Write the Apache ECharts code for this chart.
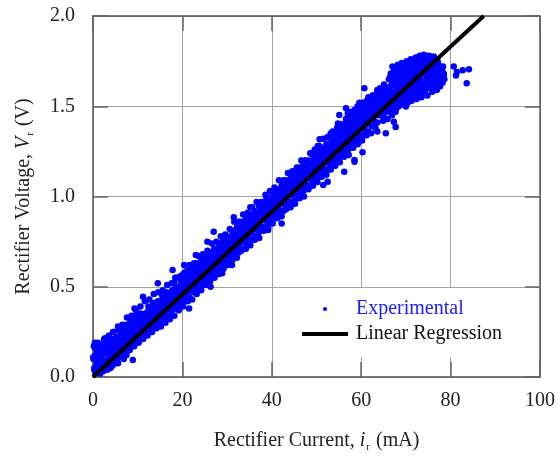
<!DOCTYPE html>
<html>
<head>
<meta charset="utf-8">
<script src="https://cdn.jsdelivr.net/npm/echarts@6/dist/echarts.min.js"></script>
<style>
  html, body { margin: 0; padding: 0; background: #fff; }
  #chart { width: 558px; height: 461px; }
</style>
</head>
<body>
<div id="chart"></div>
<script>
// axis ticks
const currentTicks = [0, 20, 40, 60, 80, 100]
const voltageTicks = [0, 0.5, 1.0, 1.5, 2.0]

const pointsLow = [
  [0.2,0.17],[0.5,0.12],[0.8,0.08],[0.3,0.05],[0.6,0.02],[0.9,0.14],[0.1,0.10],[0.4,0.19],
  [1.2,0.16],[1.5,0.11],[1.8,0.07],[1.3,0.04],[1.7,0.13],[1.1,0.19],[1.6,0.02],
  [2.1,0.18],[2.4,0.13],[2.8,0.09],[2.3,0.06],[2.6,0.15],[2.9,0.04],[2.5,0.21],[2.7,0.214],
  [3.2,0.19],[3.5,0.14],[3.8,0.10],[3.1,0.07],[3.6,0.16],[3.9,0.05],
  [4.1,0.21],[4.4,0.16],[4.7,0.12],[4.3,0.09],[4.9,0.14],[4.6,0.07],[4.5,0.19],
  [5.2,0.22],[5.5,0.17],[5.8,0.13],[5.3,0.10],[5.6,0.076],[5.9,0.20],[5.1,0.15],
  [6.2,0.24],[6.5,0.19],[6.8,0.15],[6.3,0.12],[6.7,0.21],[6.9,0.10],[6.4,0.17],
  [7.1,0.26],[7.4,0.21],[7.7,0.17],[7.3,0.14],[7.5,0.122],[7.9,0.23],[7.6,0.19],
  [8.2,0.28],[8.5,0.23],[8.8,0.19],[8.3,0.16],[8.6,0.25],[8.9,0.094],[8.4,0.21],
  [9.1,0.30],[9.3,0.38],[9.5,0.25],[9.8,0.21],[9.2,0.18],[9.6,0.27],[9.9,0.23],
  [10.2,0.32],[10.5,0.27],[10.8,0.23],[10.3,0.20],[10.6,0.29],[10.9,0.25],[10.4,0.35],
  [11.2,0.445],[11.1,0.34],[11.4,0.29],[11.7,0.25],[11.3,0.22],[11.6,0.31],[11.9,0.27],
  [12.2,0.36],[12.5,0.31],[12.8,0.27],[12.3,0.24],[12.6,0.33],[12.9,0.29],[12.4,0.39],
  [13.1,0.38],[13.4,0.33],[13.7,0.29],[13.3,0.26],[13.6,0.35],[13.9,0.31],[13.5,0.41],
  [14.5,0.519],[14.2,0.40],[14.5,0.35],[14.8,0.31],[14.3,0.28],[14.6,0.37],[14.9,0.33],
  [15.1,0.42],[15.4,0.37],[15.7,0.33],[15.3,0.30],[15.6,0.39],[15.9,0.35],[15.5,0.45],
  [16.2,0.44],[16.5,0.39],[16.8,0.35],[16.3,0.32],[16.6,0.41],[16.9,0.37],[16.4,0.47],
  [17.8,0.593],[17.1,0.46],[17.4,0.41],[17.7,0.37],[17.3,0.34],[17.6,0.43],[17.9,0.39]
]

const pointsMid = [
  [18.2,0.52],[18.5,0.47],[18.8,0.44],[18.3,0.42],[18.6,0.38],[18.9,0.49],[18.4,0.55],
  [19.1,0.55],[19.4,0.50],[19.7,0.46],[19.3,0.43],[19.6,0.40],[19.9,0.52],[19.5,0.48],
  [20.4,0.62],[20.2,0.57],[20.5,0.52],[20.8,0.48],[20.3,0.45],[20.6,0.42],[20.9,0.50],[20.1,0.54],
  [21.5,0.38],[21.1,0.59],[21.4,0.54],[21.7,0.50],[21.3,0.47],[21.6,0.44],[21.9,0.52],[21.2,0.56],
  [22.2,0.61],[22.5,0.56],[22.8,0.53],[22.3,0.50],[22.6,0.47],[22.9,0.55],[22.4,0.58],
  [23.0,0.676],[23.1,0.63],[23.4,0.58],[23.7,0.55],[23.3,0.52],[23.6,0.49],[23.9,0.57],[23.5,0.61],
  [24.2,0.65],[24.5,0.60],[24.8,0.57],[24.3,0.54],[24.6,0.51],[24.9,0.58],[24.4,0.63],
  [25.6,0.75],[25.1,0.67],[25.4,0.62],[25.7,0.59],[25.3,0.56],[25.6,0.53],[25.9,0.60],[25.5,0.65],
  [26.3,0.50],[26.2,0.69],[26.5,0.64],[26.8,0.61],[26.3,0.58],[26.6,0.55],[26.9,0.63],[26.4,0.67],
  [27.0,0.805],[27.1,0.71],[27.4,0.67],[27.7,0.63],[27.3,0.60],[27.6,0.57],[27.9,0.65],[27.5,0.69],
  [28.2,0.74],[28.5,0.69],[28.8,0.66],[28.3,0.63],[28.6,0.59],[28.9,0.67],[28.4,0.71],
  [28.9,0.575],[29.1,0.76],[29.4,0.72],[29.7,0.68],[29.3,0.65],[29.6,0.62],[29.9,0.70],[29.5,0.74],
  [30.2,0.78],[30.5,0.74],[30.8,0.71],[30.3,0.68],[30.6,0.64],[30.9,0.72],[30.4,0.76],
  [31.5,0.885],[31.1,0.62],[31.1,0.81],[31.4,0.77],[31.7,0.73],[31.3,0.70],[31.6,0.67],[31.9,0.75],[31.5,0.79],
  [32.2,0.83],[32.5,0.79],[32.8,0.76],[32.3,0.72],[32.6,0.69],[32.9,0.77],[32.4,0.81],
  [33.1,0.86],[33.4,0.81],[33.7,0.78],[33.3,0.75],[33.6,0.71],[33.9,0.79],[33.5,0.84],
  [34.2,0.88],[34.5,0.84],[34.8,0.80],[34.3,0.77],[34.6,0.74],[34.9,0.82],[34.4,0.86],
  [35.1,0.90],[35.4,0.86],[35.7,0.83],[35.3,0.80],[35.6,0.76],[35.9,0.84],[35.5,0.88],[35.2,0.94],
  [36.2,0.92],[36.5,0.88],[36.8,0.85],[36.3,0.82],[36.6,0.78],[36.9,0.87],[36.4,0.90],
  [37.1,0.95],[37.4,0.91],[37.7,0.87],[37.3,0.84],[37.6,0.81],[37.9,0.89],[37.5,0.93],
  [38.2,0.97],[38.5,0.93],[38.8,0.90],[38.3,0.87],[38.6,0.83],[38.9,0.91],[38.4,0.95],[38.7,1.00],
  [39.2,0.814],[39.1,0.99],[39.4,0.95],[39.7,0.92],[39.3,0.89],[39.6,0.86],[39.9,0.94],[39.5,0.97],
  [40.2,1.02],[40.5,0.97],[40.8,0.94],[40.3,0.91],[40.6,0.88],[40.9,0.96],[40.4,1.00],
  [41.1,1.04],[41.4,1.00],[41.7,0.96],[41.3,0.93],[41.6,0.90],[41.9,0.98],[41.5,1.02],
  [42.2,0.851],[42.2,1.06],[42.5,1.02],[42.8,0.99],[42.3,0.96],[42.6,0.92],[42.9,1.00],[42.4,1.04],
  [43.1,1.09],[43.4,1.05],[43.7,1.01],[43.3,0.98],[43.6,0.95],[43.9,1.03],[43.5,1.07],
  [44.4,1.13],[44.2,1.10],[44.5,1.07],[44.8,1.04],[44.3,1.01],[44.6,0.97],[44.9,1.05],[44.1,1.08],
  [45.1,1.13],[45.4,1.09],[45.7,1.06],[45.3,1.03],[45.6,0.99],[45.9,1.07],[45.5,1.11],
  [46.2,1.16],[46.5,1.11],[46.8,1.08],[46.3,1.05],[46.6,1.02],[46.9,1.10],[46.4,1.14],
  [47.4,1.20],[47.1,1.18],[47.4,1.14],[47.7,1.10],[47.3,1.07],[47.6,1.04],[47.9,1.12],[47.5,1.16],
  [48.2,1.20],[48.5,1.16],[48.8,1.13],[48.3,1.10],[48.6,1.06],[48.9,1.14],[48.4,1.18],
  [49.1,1.23],[49.4,1.18],[49.7,1.15],[49.3,1.12],[49.6,1.08],[49.9,1.17],[49.5,1.21],
  [50.3,1.28],[50.2,1.25],[50.5,1.21],[50.8,1.17],[50.3,1.14],[50.6,1.11],[50.9,1.19],[50.4,1.23],
  [50.7,1.317],[51.5,1.064],[51.1,1.27],[51.4,1.23],[51.7,1.20],[51.3,1.16],[51.6,1.13],[51.9,1.21],[51.5,1.25],
  [52.5,1.33],[52.5,1.082],[51.8,1.128],[52.2,1.29],[52.5,1.25],[52.8,1.22],[52.3,1.19],[52.6,1.15],[52.9,1.24],[52.4,1.27],
  [53.1,1.32],[53.4,1.28],[53.7,1.24],[53.3,1.21],[53.6,1.18],[53.9,1.26],[53.5,1.30],[53.2,1.35],
  [54.2,1.34],[54.5,1.30],[54.8,1.27],[54.3,1.23],[54.6,1.20],[54.9,1.28],[54.4,1.32],[54.7,1.37],
  [55.1,1.452],[54.8,1.405],[55.1,1.36],[55.4,1.32],[55.7,1.29],[55.3,1.26],[55.6,1.23],[55.9,1.31],[55.5,1.34],[55.2,1.39],
  [56.6,1.489],[56.2,1.137],[56.2,1.39],[56.5,1.35],[56.8,1.31],[56.3,1.28],[56.6,1.25],[56.9,1.33],[56.4,1.37],[56.7,1.42],
  [57.7,1.47],[57.0,1.46],[57.1,1.41],[57.4,1.37],[57.7,1.34],[57.3,1.30],[57.6,1.27],[57.9,1.36],[57.5,1.39],[57.2,1.44],
  [58.5,1.202],[58.5,1.193],[58.2,1.44],[58.5,1.40],[58.8,1.36],[58.3,1.33],[58.6,1.29],[58.9,1.38],[58.4,1.42],[58.7,1.47],
  [59.6,1.52],[59.2,1.50],[59.1,1.46],[59.4,1.42],[59.7,1.39],[59.3,1.35],[59.6,1.32],[59.9,1.41],[59.5,1.44],
  [60.7,1.60],[60.3,1.245],[60.2,1.49],[60.5,1.45],[60.8,1.41],[60.3,1.38],[60.6,1.34],[60.9,1.43],[60.4,1.52],
  [61.4,1.535],[61.1,1.51],[61.4,1.47],[61.7,1.44],[61.3,1.40],[61.6,1.36],[61.9,1.45],[61.5,1.49],
  [62.2,1.54],[62.5,1.50],[62.8,1.46],[62.3,1.43],[62.6,1.39],[62.9,1.48],[62.4,1.52],[62.7,1.56],
  [63.6,1.58],[63.6,1.36],[63.1,1.56],[63.4,1.52],[63.7,1.49],[63.3,1.45],[63.6,1.41],[63.9,1.50],[63.5,1.54]
]

const pointsHigh = [
  [64.2,1.60],[64.5,1.56],[64.8,1.52],[64.3,1.49],[64.6,1.46],[64.9,1.42],[64.4,1.54],[64.7,1.58],[64.1,1.50],
  [65.1,1.62],[65.4,1.58],[65.7,1.54],[65.3,1.51],[65.6,1.47],[65.9,1.43],[65.5,1.35],[65.2,1.56],[65.8,1.60],[65.5,1.49],
  [66.6,1.68],[66.2,1.65],[66.5,1.61],[66.8,1.57],[66.3,1.53],[66.6,1.49],[66.9,1.45],[66.4,1.59],[66.7,1.55],[66.1,1.51],
  [67.0,1.72],[67.3,1.414],[67.7,1.385],[67.2,1.69],[67.5,1.65],[67.8,1.61],[67.3,1.57],[67.6,1.53],[67.9,1.49],[67.4,1.63],[67.7,1.47],[67.1,1.55],
  [68.2,1.73],[68.5,1.70],[68.8,1.66],[68.3,1.62],[68.6,1.58],[68.9,1.54],[68.4,1.50],[68.7,1.64],[68.1,1.68],[68.5,1.60],
  [69.1,1.74],[69.4,1.71],[69.7,1.67],[69.3,1.63],[69.6,1.59],[69.9,1.55],[69.5,1.51],[69.2,1.65],[69.8,1.69],[69.4,1.57],
  [70.0,1.498],[70.2,1.75],[70.5,1.72],[70.8,1.68],[70.3,1.64],[70.6,1.60],[70.9,1.56],[70.4,1.52],[70.7,1.66],[70.1,1.70],[70.5,1.58],
  [71.1,1.76],[71.4,1.73],[71.7,1.69],[71.3,1.65],[71.6,1.61],[71.9,1.57],[71.3,1.53],[71.2,1.67],[71.8,1.71],[71.5,1.59],
  [72.2,1.77],[72.5,1.74],[72.8,1.70],[72.3,1.66],[72.6,1.62],[72.9,1.58],[72.4,1.54],[72.7,1.68],[72.1,1.72],[72.5,1.60],
  [73.1,1.78],[73.4,1.75],[73.7,1.71],[73.3,1.67],[73.6,1.63],[73.9,1.59],[73.5,1.55],[73.2,1.69],[73.8,1.73],[73.4,1.61],
  [74.0,1.785],[74.3,1.76],[74.6,1.72],[74.9,1.68],[74.2,1.64],[74.5,1.60],[74.8,1.56],[74.4,1.70],[74.7,1.66],[74.1,1.58],
  [75.4,1.608],[75.2,1.78],[75.5,1.74],[75.8,1.70],[75.3,1.66],[75.6,1.62],[75.9,1.58],[75.4,1.72],[75.7,1.68],[75.1,1.64],
  [76.2,1.775],[76.5,1.74],[76.8,1.70],[76.3,1.66],[76.6,1.62],[76.9,1.59],[76.4,1.72],[76.7,1.68],[76.1,1.64],
  [77.1,1.75],[77.4,1.72],[77.7,1.68],[77.3,1.64],[77.6,1.61],[77.9,1.66],[77.5,1.70],
  [78.1,1.70],[78.4,1.664],[78.2,1.63],[78.5,1.68]
]

// denser core of the band
const pointsCore = [
  [0.05,0.11],[0.3,0.04],[0.5,0.16],[0.7,0.10],[0.9,0.06],
  [1.05,0.07],[1.3,0.17],[1.5,0.10],[1.7,0.06],[1.9,0.14],
  [2.05,0.12],[2.3,0.09],[2.5,0.17],[2.7,0.07],[2.9,0.20],
  [3.05,0.15],[3.3,0.22],[3.5,0.11],[3.7,0.18],[3.9,0.09],
  [4.05,0.13],[4.3,0.19],[4.5,0.25],[4.7,0.16],[4.9,0.20],
  [5.05,0.19],[5.3,0.15],[5.5,0.22],[5.7,0.26],[5.9,0.17],
  [6.05,0.18],[6.3,0.25],[6.5,0.16],[6.7,0.28],[6.9,0.22],
  [7.05,0.23],[7.3,0.19],[7.5,0.29],[7.7,0.24],[7.9,0.20],
  [8.05,0.26],[8.3,0.30],[8.5,0.21],[8.7,0.33],[8.9,0.24],
  [9.05,0.27],[9.3,0.24],[9.5,0.34],[9.7,0.29],[9.9,0.31],
  [10.05,0.27],[10.3,0.31],[10.5,0.26],[10.7,0.35],[10.9,0.29],
  [11.05,0.30],[11.3,0.26],[11.5,0.35],[11.7,0.32],[11.9,0.28],
  [12.05,0.33],[12.3,0.29],[12.5,0.37],[12.7,0.31],[12.9,0.35],
  [13.05,0.28],[13.3,0.36],[13.5,0.32],[13.7,0.39],[13.9,0.34],
  [14.05,0.37],[14.3,0.33],[14.5,0.42],[14.7,0.36],[14.9,0.30],
  [15.05,0.34],[15.3,0.40],[15.5,0.37],[15.7,0.44],[15.9,0.38],
  [16.05,0.42],[16.3,0.36],[16.5,0.45],[16.7,0.40],[16.9,0.43],
  [17.05,0.38],[17.3,0.44],[17.5,0.41],[17.7,0.48],[17.9,0.45],
  [18.05,0.46],[18.3,0.40],[18.5,0.50],[18.7,0.43],[18.9,0.46],
  [19.05,0.42],[19.3,0.48],[19.5,0.45],[19.7,0.53],[19.9,0.49],
  [20.05,0.50],[20.3,0.44],[20.5,0.55],[20.7,0.47],[20.9,0.52],
  [21.05,0.46],[21.3,0.53],[21.5,0.50],[21.7,0.58],[21.9,0.55],
  [22.05,0.54],[22.3,0.48],[22.5,0.59],[22.7,0.51],[22.9,0.57],
  [23.05,0.50],[23.3,0.57],[23.5,0.54],[23.7,0.62],[23.9,0.59],
  [24.05,0.59],[24.3,0.52],[24.5,0.63],[24.7,0.56],[24.9,0.61],
  [25.05,0.55],[25.3,0.61],[25.5,0.58],[25.7,0.66],[25.9,0.63],
  [26.05,0.63],[26.3,0.57],[26.5,0.67],[26.7,0.60],[26.9,0.65],
  [27.05,0.59],[27.3,0.66],[27.5,0.63],[27.7,0.71],[27.9,0.68],
  [28.05,0.68],[28.3,0.61],[28.5,0.72],[28.7,0.64],[28.9,0.70],
  [29.05,0.63],[29.3,0.70],[29.5,0.67],[29.7,0.75],[29.9,0.72],
  [30.05,0.72],[30.3,0.65],[30.5,0.76],[30.7,0.69],[30.9,0.74],
  [31.05,0.66],[31.3,0.74],[31.5,0.70],[31.7,0.80],[31.9,0.77],
  [32.05,0.76],[32.3,0.69],[32.5,0.81],[32.7,0.73],[32.9,0.79],
  [33.05,0.71],[33.3,0.79],[33.5,0.75],[33.7,0.85],[33.9,0.82],
  [34.05,0.81],[34.3,0.74],[34.5,0.86],[34.7,0.78],[34.9,0.84],
  [35.05,0.76],[35.3,0.84],[35.5,0.80],[35.7,0.90],[35.9,0.87],
  [36.05,0.85],[36.3,0.78],[36.5,0.90],[36.7,0.82],[36.9,0.88],
  [37.05,0.80],[37.3,0.88],[37.5,0.84],[37.7,0.94],[37.9,0.91],
  [38.05,0.90],[38.3,0.83],[38.5,0.95],[38.7,0.87],[38.9,0.93],
  [39.05,0.85],[39.3,0.93],[39.5,0.89],[39.7,0.99],[39.9,0.96],
  [40.05,0.95],[40.3,0.88],[40.5,1.00],[40.7,0.92],[40.9,0.98],
  [41.05,0.89],[41.3,0.97],[41.5,0.93],[41.7,1.03],[41.9,1.00],
  [42.05,0.99],[42.3,0.92],[42.5,1.04],[42.7,0.96],[42.9,1.02],
  [43.05,0.94],[43.3,1.02],[43.5,0.98],[43.7,1.08],[43.9,1.05],
  [44.05,1.04],[44.3,0.97],[44.5,1.09],[44.7,1.01],[44.9,1.07],
  [45.05,0.98],[45.3,1.06],[45.5,1.02],[45.7,1.12],[45.9,1.09],
  [46.05,1.08],[46.3,1.01],[46.5,1.13],[46.7,1.05],[46.9,1.11],
  [47.05,1.03],[47.3,1.11],[47.5,1.07],[47.7,1.17],[47.9,1.14],
  [48.05,1.13],[48.3,1.06],[48.5,1.18],[48.7,1.10],[48.9,1.16],
  [49.05,1.07],[49.3,1.15],[49.5,1.11],[49.7,1.22],[49.9,1.19],
  [50.05,1.18],[50.3,1.11],[50.5,1.23],[50.7,1.15],[50.9,1.21],
  [51.05,1.12],[51.3,1.20],[51.5,1.16],[51.7,1.27],[51.9,1.24],
  [52.05,1.22],[52.3,1.15],[52.5,1.27],[52.7,1.19],[52.9,1.25],
  [53.05,1.17],[53.3,1.25],[53.5,1.21],[53.7,1.32],[53.9,1.29],
  [54.05,1.27],[54.3,1.20],[54.5,1.32],[54.7,1.24],[54.9,1.30],
  [55.05,1.21],[55.3,1.29],[55.5,1.26],[55.7,1.37],[55.9,1.34],
  [56.05,1.32],[56.3,1.25],[56.5,1.38],[56.7,1.29],[56.9,1.35],
  [57.05,1.26],[57.3,1.35],[57.5,1.31],[57.7,1.42],[57.9,1.39],
  [58.05,1.37],[58.3,1.30],[58.5,1.43],[58.7,1.34],[58.9,1.40],
  [59.05,1.31],[59.3,1.39],[59.5,1.36],[59.7,1.47],[59.9,1.44],
  [60.05,1.41],[60.3,1.34],[60.5,1.48],[60.7,1.38],[60.9,1.45],
  [61.05,1.36],[61.3,1.44],[61.5,1.41],[61.7,1.52],[61.9,1.49],
  [62.05,1.46],[62.3,1.39],[62.5,1.53],[62.7,1.43],[62.9,1.50],
  [63.05,1.41],[63.3,1.49],[63.5,1.46],[63.7,1.57],[63.9,1.54],
  [64.05,1.45],[64.3,1.53],[64.5,1.59],[64.7,1.48],[64.9,1.56],[64.6,1.51],
  [65.05,1.44],[65.3,1.60],[65.5,1.52],[65.7,1.57],[65.9,1.50],[65.2,1.47],
  [66.05,1.58],[66.3,1.47],[66.5,1.66],[66.7,1.52],[66.9,1.63],[66.2,1.55],
  [67.05,1.62],[67.3,1.51],[67.5,1.70],[67.7,1.58],[67.9,1.67],[67.2,1.48],
  [68.05,1.56],[68.3,1.72],[68.5,1.52],[68.7,1.69],[68.9,1.61],[68.2,1.65],
  [69.05,1.61],[69.3,1.53],[69.5,1.73],[69.7,1.63],[69.9,1.71],[69.2,1.57],
  [70.05,1.66],[70.3,1.74],[70.5,1.55],[70.7,1.70],[70.9,1.62],[70.2,1.59],
  [71.05,1.63],[71.3,1.55],[71.5,1.75],[71.7,1.66],[71.9,1.73],[71.2,1.60],
  [72.05,1.68],[72.3,1.76],[72.5,1.57],[72.7,1.72],[72.9,1.64],[72.2,1.62],
  [73.05,1.65],[73.3,1.57],[73.5,1.77],[73.7,1.68],[73.9,1.75],[73.2,1.62],
  [74.05,1.71],[74.3,1.78],[74.5,1.62],[74.7,1.74],[74.9,1.65],[74.2,1.58],
  [75.05,1.67],[75.3,1.60],[75.5,1.77],[75.7,1.65],[75.9,1.73],[75.2,1.70],
  [76.05,1.71],[76.3,1.77],[76.5,1.60],[76.7,1.74],[76.9,1.66],[76.2,1.68],
  [77.05,1.67],[77.3,1.73],[77.5,1.63],[77.7,1.71],[77.9,1.69],
  [78.05,1.66],[78.3,1.72],[78.6,1.65]
]

// fringe of the band, upper and lower sides
const pointsFringe = [
  [2.6,0.20],[2.2,0.03],[3.6,0.23],[3.2,0.04],[4.6,0.25],[4.2,0.06],[5.6,0.28],[5.2,0.09],
  [6.6,0.29],[6.2,0.11],[7.6,0.33],[7.2,0.13],[8.6,0.34],[8.2,0.15],[9.6,0.37],[9.2,0.17],
  [10.6,0.39],[10.2,0.19],[11.6,0.42],[11.2,0.21],[12.6,0.43],[12.2,0.23],[13.6,0.46],[13.2,0.25],
  [14.6,0.47],[14.2,0.27],[15.6,0.48],[15.2,0.28],[16.6,0.51],[16.2,0.30],[17.6,0.52],[17.2,0.32],
  [18.6,0.55],[18.2,0.34],[19.6,0.56],[19.2,0.37],[20.6,0.58],[20.2,0.39],[21.6,0.62],[21.2,0.42],
  [22.6,0.63],[22.2,0.43],[23.6,0.67],[23.2,0.46],[24.6,0.68],[24.2,0.48],[25.6,0.70],[25.2,0.51],
  [26.6,0.74],[26.2,0.53],[27.6,0.75],[27.2,0.55],[28.6,0.78],[28.2,0.57],[29.6,0.79],[29.2,0.60],
  [30.6,0.82],[30.2,0.62],[31.6,0.86],[31.2,0.65],[32.6,0.86],[32.2,0.66],[33.6,0.90],[33.2,0.70],
  [34.6,0.91],[34.2,0.71],[35.6,0.94],[35.2,0.73],[36.6,0.97],[36.2,0.76],[37.6,0.97],[37.2,0.77],
  [38.6,1.01],[38.2,0.81],[39.6,1.03],[39.2,0.83],[40.6,1.05],[40.2,0.85],[41.6,1.09],[41.2,0.88],
  [42.6,1.09],[42.2,0.89],[43.6,1.13],[43.2,0.93],[44.6,1.14],[44.2,0.94],[45.6,1.16],[45.2,0.96],
  [46.6,1.20],[46.2,0.99],[47.6,1.20],[47.2,1.00],[48.6,1.24],[48.2,1.04],[49.6,1.26],[49.2,1.06],
  [50.6,1.28],[50.2,1.08],[51.6,1.32],[51.2,1.11],[52.6,1.33],[52.2,1.12],[53.6,1.36],[53.2,1.15],
  [54.6,1.38],[54.2,1.17],[55.6,1.40],[55.2,1.19],[56.6,1.43],[56.2,1.22],[57.6,1.45],[57.2,1.23],
  [58.6,1.48],[58.2,1.27],[59.6,1.50],[59.2,1.29],[60.6,1.52],[60.2,1.31],[61.6,1.55],[61.2,1.34],
  [62.6,1.56],[62.2,1.35],[63.6,1.59],[63.2,1.38]
]

const pointsOutlier = [
  [80.7,1.72],[81.2,1.67],[81.4,1.69],[82.7,1.70],[83.6,1.627],[84.1,1.705]
]

// fitted line end points
const regressionLine = [[0, 0], [87.4, 2.0]]

const experimental = pointsLow.concat(pointsMid, pointsHigh, pointsCore, pointsFringe, pointsOutlier)

const serif = 'Liberation Serif'
const textColor = '#222'
const axisColor = '#555'

const richName = {
  n: { fontFamily: serif, fontSize: 20, color: textColor, lineHeight: 24 },
  it: { fontFamily: serif, fontSize: 20, color: textColor, fontStyle: 'italic', lineHeight: 24 },
  sub: { fontFamily: serif, fontSize: 11, color: textColor, verticalAlign: 'bottom', lineHeight: 24, padding: [0, 1, 0, 1] }
}

function mainAxis(pos, min, max, step, fmt) {
  return {
    type: 'value', position: pos, min, max, interval: step,
    axisLine: { onZero: false, lineStyle: { color: axisColor, width: 1.5 } },
    axisTick: { inside: true, length: 15, lineStyle: { color: '#666', width: 1.5 } },
    axisLabel: { fontFamily: serif, fontSize: 20, color: textColor, formatter: fmt },
    splitLine: { show: true, lineStyle: { color: '#a3a3a3', width: 1 } }
  }
}

function mirrorAxis(pos, min, max, step) {
  return {
    type: 'value', position: pos, min, max, interval: step,
    axisLine: { onZero: false, lineStyle: { color: axisColor, width: 1.5 } },
    axisTick: { inside: true, length: 15, lineStyle: { color: '#666', width: 1.5 } },
    axisLabel: { show: false },
    splitLine: { show: false }
  }
}

const xMain = mainAxis('bottom', currentTicks[0], currentTicks[currentTicks.length - 1], 20, v => String(v))
xMain.name = '{n|Rectifier Current, }{it|i}{sub|r}{n| (mA)}'
xMain.nameLocation = 'middle'
xMain.nameGap = 52
xMain.nameTextStyle = { rich: richName }
xMain.axisLabel.margin = 14

const yMain = mainAxis('left', voltageTicks[0], voltageTicks[voltageTicks.length - 1], 0.5, v => v.toFixed(1))
yMain.name = '{n|Rectifier Voltage, }{it|V}{sub|r}{n| (V)}'
yMain.nameLocation = 'middle'
yMain.nameGap = 57
yMain.nameTextStyle = { rich: richName }
yMain.axisLabel.margin = 18

const chart = echarts.init(document.getElementById('chart'))
chart.setOption({
  animation: false,
  backgroundColor: '#fff',
  grid: { left: 93, top: 16, right: 14, bottom: 84 },
  xAxis: [xMain, mirrorAxis('top', 0, 100, 20)],
  yAxis: [yMain, mirrorAxis('right', 0, 2, 0.5)],
  legend: {
    orient: 'vertical',
    left: 275, top: 288,
    padding: [11, 28, 13, 27],
    backgroundColor: '#fff',
    itemWidth: 46, itemHeight: 4, itemGap: 5,
    textStyle: { fontFamily: serif, fontSize: 20, padding: [0, 0, 0, 3] },
    data: [
      { name: 'Experimental', icon: 'circle', textStyle: { color: '#1a1aff' } },
      { name: 'Linear Regression', icon: 'rect', textStyle: { color: '#111' } }
    ]
  },
  series: [
    {
      name: 'Experimental', type: 'scatter',
      data: experimental,
      symbolSize: 6.5,
      itemStyle: { color: '#0000ff', opacity: 1 },
      z: 2
    },
    {
      name: 'Linear Regression', type: 'line',
      data: regressionLine,
      showSymbol: false, symbol: 'none',
      lineStyle: { color: '#000', width: 4 },
      itemStyle: { color: '#000' },
      clip: true,
      z: 3
    }
  ]
})
</script>
</body>
</html>
